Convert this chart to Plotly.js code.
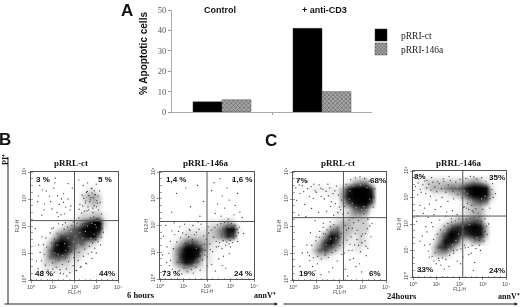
<!DOCTYPE html>
<html><head><meta charset="utf-8">
<script src="https://cdn.plot.ly/plotly-3.0.1.min.js"></script>
<style>html,body{margin:0;padding:0;background:#fff}#c{width:520px;height:307px;filter:blur(0.3px)}</style></head>
<body><div id="c"></div>
<script>
// ---- bar chart values
var barCategories = ['Control', '+ anti-CD3'];
var valuesCt = [5, 41];
var values146a = [6, 10];
var seriesNames = ['pRRI-ct', 'pRRI-146a'];

// ---- flow-cytometry density (rows bottom to top, 0..9)
var gridCenters = [0.125,0.375,0.625,0.875,1.125,1.375,1.625,1.875,2.125,2.375,2.625,2.875,3.125,3.375,3.625,3.875];
var densityB1 = [
[0,0,0,0,0,0,0,0,0,0,0,0,0,0,0,0],
[0,0,1,1,1,1,1,1,0,0,0,0,0,0,0,0],
[0,0,2,2,3,2,2,1,1,0,0,0,0,0,0,0],
[0,0,2,5,6,6,5,2,2,1,0,0,0,0,0,0],
[0,0,2,5,8,9,8,5,3,2,1,0,0,0,0,0],
[0,0,1,3,7,9,8,6,5,5,3,2,0,0,0,0],
[0,0,0,1,3,6,6,6,6,7,8,8,4,0,0,0],
[0,0,0,0,1,2,3,5,6,8,9,9,8,1,0,0],
[0,0,0,0,0,0,1,2,3,5,7,9,9,2,0,0],
[0,0,0,0,0,0,0,0,1,2,2,3,3,1,0,0],
[0,0,0,0,0,0,0,0,0,1,1,1,1,0,0,0],
[0,0,0,0,0,0,0,0,0,1,2,3,2,0,0,0],
[0,0,0,0,0,0,0,0,0,2,3,3,2,0,0,0],
[0,0,0,0,0,0,0,0,0,0,1,1,0,0,0,0],
[0,0,0,0,0,0,0,0,0,0,0,0,0,0,0,0],
[0,0,0,0,0,0,0,0,0,0,0,0,0,0,0,0]];
var densityB2 = [
[0,0,0,0,0,0,0,0,0,0,0,0,0,0,0,0],
[0,0,1,2,3,2,1,1,0,0,0,0,0,0,0,0],
[0,0,3,6,8,7,4,1,1,0,0,0,0,0,0,0],
[0,0,3,7,9,9,7,2,1,0,0,0,0,0,0,0],
[0,0,3,6,9,9,8,4,1,1,0,0,0,0,0,0],
[0,0,1,3,5,6,4,3,2,1,1,1,0,0,0,0],
[0,0,0,1,2,2,2,2,2,3,5,7,6,0,0,0],
[0,0,0,0,1,1,1,1,2,3,5,8,8,1,0,0],
[0,0,0,0,0,0,0,0,1,1,2,3,2,0,0,0],
[0,0,0,0,0,0,0,0,0,0,0,0,0,0,0,0],
[0,0,0,0,0,0,0,0,0,0,0,0,0,0,0,0],
[0,0,0,0,0,0,0,0,0,0,0,0,0,0,0,0],
[0,0,0,0,0,0,0,0,0,0,0,0,0,0,0,0],
[0,0,0,0,0,0,0,0,0,0,0,0,0,0,0,0],
[0,0,0,0,0,0,0,0,0,0,0,0,0,0,0,0],
[0,0,0,0,0,0,0,0,0,0,0,0,0,0,0,0]];
var densityC1 = [
[0,0,0,0,0,0,0,0,0,0,0,0,0,0,0,0],
[0,0,0,0,0,0,0,0,0,0,0,0,0,0,0,0],
[0,0,0,0,0,0,0,0,0,0,0,0,0,0,0,0],
[0,0,0,1,2,2,1,0,0,0,0,0,0,0,0,0],
[0,0,0,2,5,6,4,2,1,0,1,1,0,0,0,0],
[0,0,0,1,3,7,8,5,2,1,1,2,1,0,0,0],
[0,0,0,0,1,4,8,7,3,2,1,2,1,0,0,0],
[0,0,0,0,0,1,4,5,3,3,2,2,2,0,0,0],
[0,0,0,0,0,0,1,2,3,3,2,2,2,0,0,0],
[0,0,0,0,0,0,0,1,1,2,3,3,2,0,0,0],
[0,0,0,0,0,0,0,1,1,2,5,6,5,1,0,0],
[0,0,0,0,0,0,0,0,3,6,8,9,9,6,0,0],
[0,0,0,0,0,0,1,1,4,8,9,9,9,8,0,0],
[0,0,0,1,1,1,1,1,3,7,9,9,9,7,0,0],
[0,0,0,0,0,0,0,0,0,1,3,4,4,1,0,0],
[0,0,0,0,0,0,0,0,0,0,0,0,0,0,0,0]];
var densityC2 = [
[0,0,0,0,0,0,0,0,0,0,0,0,0,0,0,0],
[0,0,0,0,0,0,0,0,0,0,0,0,0,0,0,0],
[0,0,0,0,0,0,0,0,0,0,0,0,0,0,0,0],
[0,0,0,2,3,3,1,0,0,0,0,0,0,0,0,0],
[0,0,0,2,6,7,5,2,1,0,0,0,0,0,0,0],
[0,0,0,1,4,8,8,6,2,2,4,4,1,0,0,0],
[0,0,0,0,3,6,9,8,6,7,8,8,3,0,0,0],
[0,0,0,0,1,3,6,7,7,8,9,8,3,0,0,0],
[0,0,0,0,0,1,2,3,4,5,6,5,1,0,0,0],
[0,0,0,0,0,0,0,1,1,2,3,3,1,0,0,0],
[0,0,0,0,0,0,0,0,1,2,3,3,1,0,0,0],
[0,0,0,0,0,0,0,0,1,3,5,6,5,1,0,0],
[0,0,0,1,1,1,2,3,4,7,9,9,8,3,0,0],
[0,1,2,3,3,4,5,5,6,8,9,9,8,2,0,0],
[0,1,2,2,2,2,2,2,2,3,4,3,1,0,0,0],
[0,0,0,0,0,0,0,0,0,0,0,0,0,0,0,0]];

// ---- individual events [decade x, decade y]
var eventsB1 = [[0.4,3.5],[0.7,3.3],[1.1,3.6],[1.5,3.2],[1.9,3.4],[0.9,2.9],[1.3,2.8],[1.7,3.0],[0.6,2.6],[1.2,2.5],[1.6,2.7],[0.5,2.4],[0.85,3.1],[1.4,3.0],[1.8,2.6],[0.3,2.9],[1.05,3.4],[1.55,2.45],[0.75,3.7],[1.25,2.35],[2.2,3.7],[2.4,3.5],[2.6,3.6],[2.8,3.4],[3.0,3.55],[3.15,3.3],[2.35,3.15],[2.55,3.25],[2.75,3.05],[2.95,3.15],[2.25,2.8],[2.5,2.85],[2.7,2.9],[2.9,2.75],[3.05,2.85],[2.45,2.55],[2.65,2.6],[2.85,2.5],[3.1,2.6],[3.25,2.45],
[0.2,1.9],[0.35,1.3],[0.55,0.3],[0.8,0.2],[1.0,0.4],[1.35,0.25],[1.65,0.15],[2.1,0.35],[2.3,0.5],[2.55,0.6],[2.8,0.8],[3.0,1.0],[3.2,1.3],[0.25,0.7],[0.5,1.6],[0.95,1.9],[1.45,2.05],[1.95,2.15],[2.2,2.3],[2.45,2.1],
[0.33,0.42],[0.48,0.71],[0.52,0.33],[0.61,0.95],[0.66,0.55],[0.72,1.22],[0.78,0.37],[0.83,0.81],[0.91,0.16],[0.94,1.37],[0.99,0.63],[1.07,0.29],[1.09,1.52],[1.16,0.47],[1.21,1.71],[1.28,0.74],[1.33,0.38],[1.39,1.63],[1.44,0.58],[1.49,0.23],[1.52,1.88],[1.58,0.82],[1.63,0.41],[1.68,1.97],[1.73,0.68],[1.79,0.27],[1.84,1.05],[1.88,2.02],[1.93,0.53],[1.97,0.83],[2.03,1.17],[2.07,0.36],[2.12,2.11],[2.17,0.72],[2.21,1.02],[2.26,0.47],[2.31,1.33],[2.36,2.07],[2.41,0.88],[2.47,1.14],[2.52,0.62],[2.57,2.19],[2.63,0.97],[2.68,1.25],[2.73,2.31],[2.79,1.03],[2.83,1.37],[2.88,2.34],[2.93,1.18],[2.98,1.49],[3.04,2.28],[3.09,1.42],[3.14,1.73],[3.19,2.13],[3.23,1.58],[3.28,1.91],[3.33,1.77],[0.42,1.02],[0.57,1.31],[0.68,1.56],[0.88,1.74],[1.03,1.93],[1.27,2.08],[1.58,2.12],
[2.21,2.62],[2.38,2.74],[2.52,2.93],[2.66,3.13],[2.73,2.97],[2.81,3.22],[2.87,3.04],[2.94,3.17],[3.02,2.94],[3.08,3.11],[2.59,3.28],[2.77,3.38],[2.91,3.31],[2.43,3.02],[3.18,2.87],[2.62,2.71],[2.84,2.66],[3.01,2.71],[2.33,2.48],[2.57,2.56],[0.33,3.11],[0.62,2.82],[0.97,2.63],[1.22,3.12],[1.49,2.88],[1.71,3.57],[1.12,3.77],[0.52,3.34],[1.83,2.74],[1.38,2.42]];
var specksB1 = [[0.8,0.8],[1.05,0.72],[1.35,0.62],[1.6,1.1],[1.75,1.25],[1.95,1.42],[2.05,1.62],[2.18,1.3],[2.3,1.15],[1.25,0.95],[0.7,1.05],[0.9,1.25],[1.15,1.55],[1.45,1.72],[1.7,1.55],[1.85,1.8],[2.0,1.95],[2.25,1.75],[2.38,1.55],[2.55,1.38],[2.75,1.55],[2.9,1.7],[3.0,1.95],[2.6,2.0],[2.2,2.02],[1.55,1.35],[1.85,0.95],[1.45,0.9],[1.1,1.0],[0.85,0.55],[1.2,1.3],[1.65,0.75],[2.5,1.8],[2.8,2.1],[2.95,2.05]];
var eventsB2 = [[0.35,3.65],[0.7,3.2],[1.1,3.4],[1.6,3.5],[1.85,2.9],[0.5,2.5],[1.3,2.7],[1.7,2.35],[2.3,3.6],[2.55,3.75],[2.85,3.4],[3.1,3.7],[3.3,3.2],[2.2,3.3],[2.65,3.1],[2.95,2.95],[2.45,2.8],[2.75,2.65],[3.2,2.75],[3.4,2.5],[2.35,2.45],[2.6,2.35],[2.9,2.25],[3.15,2.4],
[0.25,2.0],[0.15,1.6],[0.3,1.2],[0.45,0.7],[0.6,2.1],[0.5,1.8],[1.75,2.05],[2.05,1.95],[2.4,1.2],[2.7,0.85],[3.0,1.2],[3.3,1.4],[3.55,1.7],[2.0,0.5],[1.9,0.9],[2.2,0.55],[2.5,0.75],[2.8,0.4],[0.2,0.3],[0.4,0.5],[0.1,0.9],[1.4,2.0],[1.55,1.75],[0.85,1.95],[1.25,1.85],[1.9,1.3],[2.35,0.3],[2.65,0.5],[2.15,1.1],[2.95,0.95],[3.5,2.3],
[0.38,0.96],[0.44,1.41],[0.52,0.36],[0.57,1.13],[0.63,1.66],[0.66,0.28],[0.71,1.38],[0.74,0.62],[0.79,1.78],[0.83,0.31],[0.88,1.54],[0.93,0.19],[0.97,1.72],[1.02,0.41],[1.06,1.33],[1.11,1.66],[1.17,0.27],[1.22,1.58],[1.28,1.81],[1.33,0.36],[1.38,1.47],[1.42,0.22],[1.47,1.66],[1.53,0.44],[1.58,1.39],[1.62,0.63],[1.66,1.86],[1.71,0.33],[1.76,1.24],[1.81,0.71],[1.86,1.61],[1.92,1.07],[1.97,1.48],[2.02,0.83],[2.07,1.72],[2.12,1.31],[2.18,1.83],[2.24,1.02],[2.29,1.56],[2.34,1.93],[2.39,1.41],[2.44,2.02],[2.49,1.22],[2.54,1.36],[2.59,2.07],[2.64,1.14],[2.69,1.43],[2.74,2.11],[2.79,1.27],[2.84,1.38],[2.89,2.13],[2.94,1.31],[2.99,1.44],[3.04,2.08],[3.09,1.36],[3.14,1.52],[3.19,2.0],[3.24,1.6],[3.29,1.86],[3.34,1.73],[3.38,1.94],[0.28,0.62],[1.05,2.05],[1.62,2.13]];
var specksB2 = [[0.75,0.85],[0.62,1.05],[0.8,1.25],[1.0,1.4],[1.3,1.35],[1.55,1.15],[1.75,0.95],[1.65,0.75],[1.45,0.55],[1.15,0.48],[0.92,0.52],[1.55,1.62],[1.85,1.45],[2.1,1.62],[2.35,1.72],[2.52,1.62],[2.6,1.85],[2.72,1.6],[2.95,1.95],[2.25,1.9],[1.35,1.65],[0.9,1.62],[1.72,0.6],[1.82,1.2],[2.0,1.2]];
var eventsC1 = [[0.2,3.7],[0.4,3.5],[0.6,3.65],[0.9,3.55],[1.2,3.4],[1.5,3.55],[1.8,3.3],[0.3,3.2],[0.7,3.1],[1.0,3.25],[1.35,3.0],[1.65,2.9],[2.0,2.7],[0.15,2.95],[0.5,2.8],[0.8,2.65],[1.1,2.5],[1.45,2.55],[1.75,2.4],[2.05,2.6],[0.25,2.4],[0.55,2.35],[0.95,2.2],[1.3,2.1],[1.6,2.15],[1.9,1.95],[2.3,1.85],[2.5,1.6],[2.75,1.5],[3.0,1.7],[3.2,1.9],[3.4,2.1],[2.4,1.1],[2.65,1.3],[2.9,1.05],[3.1,1.45],[3.3,2.0],[2.2,1.0],[2.6,0.8],[2.85,0.6],[3.35,1.6],[1.05,0.6],[0.85,0.5],[0.7,0.9],[1.15,1.8],[1.3,1.95],[2.1,0.95],[2.45,0.75],[2.7,0.5],[2.95,0.3],[3.15,0.9],[2.25,0.4],[0.6,1.3],[0.4,1.0],[2.55,2.3],[3.05,2.45],[1.9,0.7],[1.7,0.45],[1.55,0.3],[1.2,0.2],[0.95,0.35],[2.35,0.15],[0.5,0.25],[1.0,1.6],[1.4,1.7],[0.3,0.5],[0.75,1.75],[2.0,1.55],[3.45,2.7],
[0.12,3.41],[0.27,3.52],[0.46,3.27],[0.63,3.38],[0.78,3.46],[0.95,3.31],[1.12,3.52],[1.28,3.36],[1.42,3.28],[1.58,3.41],[1.72,3.2],[1.87,3.48],[1.96,3.15],[1.52,3.12],[1.21,3.1],[0.87,3.02],[1.62,2.72],[1.83,2.83],[1.93,2.5],[2.08,2.96],[2.14,2.44],[2.22,2.73],[2.28,3.55],[2.36,2.48],[2.42,2.22],[2.48,3.72],[2.55,1.92],[2.62,2.12],[2.68,3.78],[2.76,1.84],[2.82,2.2],[2.88,3.82],[2.94,1.62],[3.02,2.1],[3.08,3.76],[3.14,1.25],[3.22,2.25],[3.28,3.66],[3.38,2.88],[3.48,3.05],[3.52,3.38],[0.63,1.02],[0.72,0.72],[0.81,1.28],[0.88,0.82],[0.98,1.45],[1.06,0.88],[1.14,1.58],[1.22,0.78],[1.31,1.72],[1.38,0.92],[1.46,1.86],[1.52,0.84],[1.61,1.98],[1.68,1.02],[1.76,2.05],[1.84,1.1],[1.93,1.76],[2.02,1.28],[2.08,1.72],[2.16,1.38],[2.24,2.02],[2.32,1.48],[2.39,1.92],[2.45,1.32],[2.54,1.1],[2.68,1.72],[2.82,1.28],[2.96,1.38],[3.12,1.72],[3.22,1.18]];
var specksC1 = [[2.55,2.85],[2.42,3.0],[2.62,3.48],[2.9,3.52],[3.18,3.42],[3.3,3.0],[3.05,2.72],[2.72,2.68],[2.45,3.3],[2.95,2.62],[1.1,1.2],[1.3,1.05],[1.42,1.32],[1.72,1.3],[1.85,1.55],[1.5,1.72],[1.22,0.98],[0.98,1.08],[1.62,1.52],[2.05,1.85],[2.25,2.2],[2.6,2.05],[2.8,2.4],[3.15,2.6],[2.2,2.9]];
var eventsC2 = [[0.15,3.85],[0.25,3.7],[0.4,3.8],[0.6,3.65],[0.8,3.75],[1.05,3.6],[1.3,3.7],[1.55,3.8],[0.2,3.1],[0.35,3.2],[0.55,3.15],[0.75,3.05],[1.0,2.9],[1.25,3.0],[1.5,2.85],[1.75,2.95],[0.3,2.7],[0.5,2.6],[0.7,2.75],[0.95,2.55],[1.2,2.65],[1.45,2.45],[1.7,2.5],[0.2,2.3],[0.45,2.4],[0.65,2.25],[0.9,2.35],[1.15,2.15],[1.4,2.3],[1.65,2.2],[1.9,2.35],[2.2,2.65],[2.4,2.55],[2.6,2.45],[2.75,3.7],[2.95,3.75],[2.3,2.6],[2.55,2.5],[2.8,2.4],[3.1,2.2],[3.3,2.6],[3.45,3.0],[2.25,1.1],[2.5,0.9],[2.85,1.2],[3.05,1.35],[3.2,1.6],[0.8,2.05],[0.6,1.7],[0.4,1.55],[0.5,1.2],[0.3,1.35],[0.7,0.75],[0.9,0.6],[1.0,0.5],[1.1,0.7],[0.85,1.9],[1.2,0.45],[1.55,0.4],[1.9,0.6],[2.15,0.75],[2.4,0.85],[2.65,0.55],[2.9,1.0],[3.25,2.0],[0.35,0.2],[0.15,2.1],[0.55,1.9],[1.35,0.3],[1.75,0.9],[2.05,0.5],[3.4,3.3],[3.55,3.15],[2.6,0.25],
[0.11,3.42],[0.22,3.55],[0.31,3.31],[0.42,3.48],[0.51,3.63],[0.58,3.36],[0.68,3.5],[0.77,3.28],[0.86,3.58],[0.94,3.4],[1.02,3.22],[1.13,3.52],[1.22,3.34],[1.33,3.6],[1.41,3.2],[1.52,3.48],[1.61,3.64],[1.72,3.24],[1.84,3.58],[1.93,3.12],[2.02,3.68],[2.11,2.98],[2.18,2.62],[2.28,3.72],[2.34,2.78],[2.47,3.8],[2.53,2.7],[2.62,3.78],[2.7,2.58],[2.86,2.28],[3.0,2.55],[3.14,3.62],[3.22,2.92],[3.32,2.96],[3.42,3.52],[0.66,0.98],[0.73,1.24],[0.82,0.78],[0.88,1.42],[0.96,0.92],[1.04,1.62],[1.12,0.62],[1.18,1.78],[1.27,0.72],[1.34,1.92],[1.42,0.66],[1.5,2.02],[1.58,0.82],[1.66,2.08],[1.74,1.0],[1.82,2.12],[1.9,1.02],[1.98,2.2],[2.06,1.06],[2.14,2.08],[2.22,1.2],[2.3,2.18],[2.38,1.12],[2.46,2.22],[2.54,1.18],[2.62,2.26],[2.7,1.08],[2.78,2.12],[2.85,1.38],[2.95,2.1],[3.02,1.52],[3.1,1.72],[3.16,1.92]];
var specksC2 = [[0.85,1.0],[1.0,1.22],[1.15,1.02],[1.22,1.45],[1.55,1.05],[1.7,1.22],[1.85,1.38],[1.95,1.62],[2.08,1.35],[2.3,1.45],[2.55,1.4],[2.75,1.5],[2.15,1.9],[2.42,1.98],[1.6,1.88],[1.38,1.72],[2.5,2.9],[2.35,3.15],[2.95,2.95],[3.1,3.05],[2.68,3.6],[2.2,3.25],[1.9,3.4],[1.3,3.38],[1.1,3.3],[2.75,2.62],[0.95,1.6]];

// ---- labels
var panelTitles = ['pRRL-ct', 'pRRL-146a', 'pRRL-ct', 'pRRL-146a'];
var quadrantLabels = [['3 %','5 %','48 %','44%'],['1,4 %','1,6 %','73 %','24 %'],['7%','68%','19%','6%'],['8%','35%','33%','24%']];
var decadeLabels = ['10⁰','10¹','10²','10³','10⁴'];

// ---- layout helpers (pixels to paper)
var W = 520, H = 307;
function px(x){return x/W;} function py(y){return 1-y/H;}
var sans = '"Liberation Sans", Arial, sans-serif', serif = '"Liberation Serif", "Times New Roman", serif';

var panels = [
 {l:31, r:118, t:172, b:280, qx:2.0,  qy:2.2,  d:densityB1, ev:eventsB1, sp:specksB1, tx:71,
  lab:[[43,179],[105,179],[44,273],[107,273]]},
 {l:160,r:254, t:172, b:279, qx:2.0,  qy:2.15, d:densityB2, ev:eventsB2, sp:specksB2, tx:206,
  lab:[[176,179],[242,179],[171,273],[243,273]]},
 {l:293,r:386, t:172, b:280, qx:2.17, qy:2.31, d:densityC1, ev:eventsC1, sp:specksC1, tx:338,
  lab:[[302,180],[378,180],[307,273],[375,273]]},
 {l:413,r:506, t:171, b:277, qx:2.14, qy:2.3,  d:densityC2, ev:eventsC2, sp:specksC2, tx:459,
  lab:[[420,176],[497,177],[425,269],[497,270]]}
];

var gray = [[0,'#ffffff'],[0.11,'#eeeeee'],[0.33,'#b0b0b0'],[0.6,'#5c5c5c'],[0.85,'#141414'],[1,'#000000']];

var data = [
 {type:'bar', name:seriesNames[0], x:barCategories, y:valuesCt, xaxis:'x', yaxis:'y', legend:'legend',
  marker:{color:'#000000', line:{color:'#333', width:0.5}}},
 {type:'bar', name:seriesNames[1], x:barCategories, y:values146a, xaxis:'x', yaxis:'y', legend:'legend2',
  marker:{color:'#9a9a9a', line:{color:'#555', width:0.5},
          pattern:{shape:'x', fgcolor:'#555', bgcolor:'#a8a8a8', size:3, solidity:0.35}}}
];

var legendBase = {xanchor:'left', yanchor:'middle', bgcolor:'rgba(0,0,0,0)',
  font:{family:serif, size:9.5, color:'#222'}, itemclick:false, itemdoubleclick:false};
var layout = {
 width:W, height:H, margin:{l:0,r:0,t:0,b:0}, paper_bgcolor:'#fff', plot_bgcolor:'#fff',
 barmode:'group', bargap:0.42, bargroupgap:0,
 showlegend:true,
 legend:Object.assign({}, legendBase, {x:px(361), y:py(35)}),
 legend2:Object.assign({}, legendBase, {x:px(361), y:py(49)}),
 xaxis:{domain:[px(172),px(372)], anchor:'y', range:[-0.5,1.5], type:'category',
        tickmode:'array', tickvals:[0.5], ticktext:[''], ticks:'outside', ticklen:2, tickcolor:'#999',
        showline:true, linecolor:'#aaa', linewidth:1, showgrid:false, zeroline:false, fixedrange:true},
 yaxis:{domain:[py(112),py(10)], anchor:'x', range:[0,50], tickmode:'array', tickvals:[0,10,20,30,40,50],
        ticks:'outside', ticklen:3, tickcolor:'#999', showline:true, linecolor:'#aaa', linewidth:1,
        showgrid:false, zeroline:false, tickfont:{family:serif, size:8.5, color:'#555'}},
 annotations:[], shapes:[]
};

function note(txt,x,y,size,fam,extra){
  var a = {text:txt, xref:'paper', yref:'paper', x:px(x), y:py(y), xanchor:'center', yanchor:'middle',
           showarrow:false, font:{family:fam, size:size, color:'#111', weight:700}};
  for (var k in (extra||{})) a[k]=extra[k];
  layout.annotations.push(a);
}
note('A',127,10,17,sans); note('B',5,139,17,sans); note('C',271,140,17,sans);
note('% Apoptotic cells',144,54,10,sans,{textangle:-90});
note(barCategories[0],220,10,9,sans); note(barCategories[1],324,10,9,sans);
note('6 hours',141,295,8.5,serif); note('annV⁺',265,295,8,serif);
note('24hours',402,296,8.5,serif); note('annV⁺',509,296,8,serif);
note('PI⁺',5,160,8,serif,{textangle:-90});

panels.forEach(function(p,i){
  var n = i+2, xa='x'+n, ya='y'+n;
  data.push({type:'heatmap', x:gridCenters, y:gridCenters, z:p.d, zmin:0, zmax:9, zsmooth:'best',
             colorscale:gray, showscale:false, xaxis:xa, yaxis:ya, hoverinfo:'skip', showlegend:false});
  data.push({type:'scatter', mode:'markers', x:p.ev.map(function(e){return e[0];}), y:p.ev.map(function(e){return e[1];}),
             xaxis:xa, yaxis:ya, showlegend:false, marker:{size:1.3, color:'#3a3a3a'}, hoverinfo:'skip'});
  data.push({type:'scatter', mode:'markers', x:p.sp.map(function(e){return e[0];}), y:p.sp.map(function(e){return e[1];}),
             xaxis:xa, yaxis:ya, showlegend:false, marker:{size:1.2, color:'#bbbbbb'}, hoverinfo:'skip'});
  var common = {range:[0,4], tickmode:'array', tickvals:[0,1,2,3,4], ticktext:decadeLabels,
    ticks:'outside', ticklen:2, tickwidth:0.6, tickcolor:'#444', showline:true, mirror:true, linecolor:'#555', linewidth:1,
    showgrid:false, zeroline:false, tickfont:{family:sans, size:5, color:'#444'}, fixedrange:true,
    minor:{ticks:'inside', ticklen:1.5, dtick:0.25, tickcolor:'#444', tickwidth:0.5}};
  layout['xaxis'+n] = Object.assign({}, common, {domain:[px(p.l),px(p.r)], anchor:ya,
    title:{text:'FL1-H', font:{family:sans, size:4.5, color:'#444'}, standoff:1}});
  layout['yaxis'+n] = Object.assign({}, common, {domain:[py(p.b),py(p.t)], anchor:xa, tickangle:-90,
    title:{text:'FL2-H', font:{family:sans, size:4.5, color:'#444'}, standoff:1}});
  layout.shapes.push({type:'line', xref:xa, yref:ya, x0:p.qx, x1:p.qx, y0:0, y1:4, line:{color:'#555', width:1}});
  layout.shapes.push({type:'line', xref:xa, yref:ya, x0:0, x1:4, y0:p.qy, y1:p.qy, line:{color:'#555', width:1}});
  note(panelTitles[i], p.tx, 163, 9, serif);
  quadrantLabels[i].forEach(function(t,k){ note(t, p.lab[k][0], p.lab[k][1], 8, sans); });
});

// frame lines with arrow heads
layout.shapes.push({type:'line', xref:'paper', yref:'paper', x0:px(8), x1:px(8), y0:py(157), y1:py(304), line:{color:'#222', width:1}});
[[3,278],[282,518]].forEach(function(s){
  layout.annotations.push({xref:'paper', yref:'paper', x:px(s[1]), y:py(304), ax:px(s[0]), ay:py(304), axref:'paper', ayref:'paper',
    text:'', showarrow:true, arrowhead:2, arrowsize:0.7, arrowwidth:1, arrowcolor:'#222'});
});

Plotly.newPlot('c', data, layout, {displayModeBar:false, staticPlot:true});
</script></body></html>
